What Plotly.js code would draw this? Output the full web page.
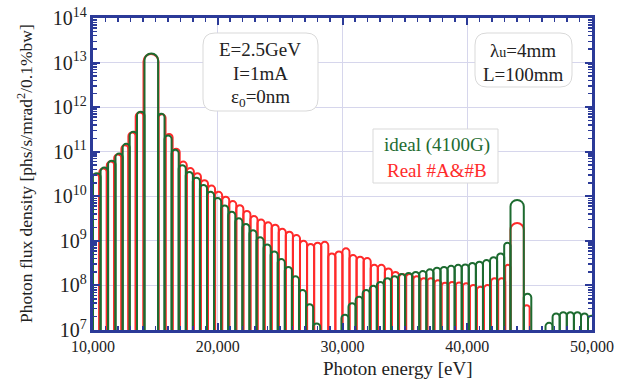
<!DOCTYPE html>
<html><head><meta charset="utf-8">
<script src="https://cdn.plot.ly/plotly-3.0.1.min.js"></script>
<style>html,body{margin:0;padding:0;background:#fff}#chart{width:627px;height:379px}</style>
</head><body><div id="chart"></div>
<script>
// ---- data ----
// lobe maxima: photon energy [eV] and photon flux density [phs/s/mrad^2/0.1%bw]
const greenPeakEnergy = [9695, 10297, 10922, 11499, 12108, 12645, 13231, 13824, 14649,
  15451, 16018, 16585, 17153, 17720, 18287, 18854, 19421, 19989, 20556,
  21123, 21690, 22257, 22825, 23392, 23959, 24526, 25093, 25661, 26228,
  26795, 27362, 27929, 28497, 29064, 29631, 30198, 30765, 31333, 31900,
  32467, 33034, 33601, 34169, 34736, 35303, 35870, 36437, 37005, 37572,
  38139, 38706, 39273, 39841, 40408, 40975, 41542, 42109, 42677, 43244,
  43964, 44846, 45415, 45984, 46553, 47122, 47691, 48261, 48830, 49399, 49968];
const greenPeakFlux = [2.5e10, 3.3e10, 4.4e10, 6.3e10, 9.1e10, 1.5e11, 2.8e11, 7.9e11, 1.6e13,
  7.1e11, 2.3e11, 1.1e11, 5.0e10, 3.5e10, 2.6e10, 1.8e10, 1.26e10, 9.1e9, 6.2e9,
  4.5e9, 3.2e9, 2.4e9, 1.74e9, 1.2e9, 8.3e8, 5.8e8, 3.9e8, 2.6e8, 1.6e8,
  7.9e7, 3.8e7, 1.4e7, 6.3e6, 4e6, 7.9e6, 2.2e7, 4.0e7, 5.6e7, 7.9e7,
  9.8e7, 1.2e8, 1.45e8, 1.6e8, 1.8e8, 1.9e8, 2.0e8, 2.1e8, 2.3e8, 2.5e8,
  2.6e8, 2.75e8, 2.9e8, 2.95e8, 3.2e8, 3.4e8, 3.7e8, 4.3e8, 5.2e8, 9.1e8,
  8.3e9, 6.5e7, 5e6, 6.3e6, 1.45e7, 2.35e7, 2.5e7, 2.5e7, 2.5e7, 2.35e7, 2.1e7];
// energies of the zeros (minima) between lobes [eV]
const greenZeroEnergy = [9410, 9992, 10609, 11210, 11804, 12381, 12942, 13527, 14128, 15218,
  15735, 16302, 16869, 17437, 18004, 18571, 19138, 19705, 20273, 20840,
  21407, 21974, 22541, 23109, 23676, 24243, 24810, 25377, 25945, 26512,
  27079, 27646, 28213, 28781, 29348, 29915, 30482, 31049, 31617, 32184,
  32751, 33318, 33885, 34453, 35020, 35587, 36154, 36721, 37289, 37856,
  38423, 38990, 39557, 40125, 40692, 41259, 41826, 42393, 42961,
  43467, 44533, 45134, 45703, 46273, 46841, 47411, 47980, 48549, 49118, 49679, 50256];

const redPeakEnergy = [9600, 10192, 10818, 11395, 12004, 12541, 13126, 13720, 14649,
  15531, 16098, 16665, 17233, 17800, 18367, 18934, 19501, 20069, 20636,
  21203, 21770, 22337, 22905, 23472, 24039, 24606, 25173, 25741, 26308,
  26875, 27442, 28009, 28577, 29144, 29711, 30278, 30845, 31413, 31980,
  32547, 33114, 33681, 34249, 34816, 35383, 35950, 36517, 37085, 37652,
  38219, 38786, 39353, 39921, 40488, 41055, 41622, 42189, 42757, 43244,
  43964, 44766];
const redPeakFlux = [2.0e10, 3.16e10, 4.2e10, 6.0e10, 8.7e10, 1.4e11, 2.7e11, 7.6e11, 1.55e13,
  6.9e11, 2.5e11, 1.17e11, 6.0e10, 4.3e10, 3.3e10, 2.3e10, 1.74e10, 1.26e10, 9.8e9,
  7.8e9, 6.3e9, 4.7e9, 3.6e9, 3.0e9, 2.6e9, 2.3e9, 1.86e9, 1.6e9, 1.35e9,
  1.0e9, 8.5e8, 9.1e8, 9.5e8, 5.2e8, 5.8e8, 6.8e8, 4.8e8, 4.4e8, 4.1e8,
  2.9e8, 2.9e8, 2.4e8, 2.0e8, 1.8e8, 1.8e8, 1.6e8, 1.45e8, 1.45e8, 1.3e8,
  1.15e8, 1.2e8, 1.17e8, 1.12e8, 1.02e8, 9.3e7, 1.02e8, 1.45e8, 1.45e8, 2.9e8,
  2.5e9, 3.6e7];
const redZeroEnergy = [9310, 9900, 10505, 11106, 11699, 12277, 12838, 13423, 14048, 15250,
  15815, 16382, 16949, 17517, 18084, 18651, 19218, 19785, 20353, 20920,
  21487, 22054, 22621, 23189, 23756, 24323, 24890, 25457, 26025, 26592,
  27159, 27726, 28293, 28861, 29428, 29995, 30562, 31129, 31697, 32264,
  32831, 33398, 33965, 34533, 35100, 35667, 36234, 36801, 37369, 37936,
  38503, 39070, 39637, 40205, 40772, 41339, 41906, 42473, 43041,
  43467, 44533, 45000];

const seriesNames = ['ideal (4100G)', 'Real #A&#B'];
const infoLines = ['E=2.5GeV', 'I=1mA', 'ε<sub>0</sub>=0nm'];
const undulatorLines = ['λ<span style="font-size:14px">u</span>=4mm', 'L=100mm'];
const xTitle = 'Photon energy [eV]';
const yTitle = 'Photon flux density [phs/s/mrad<sup>2</sup>/0.1%bw]';

// ---- each lobe is drawn as an arch from the zero before it to the zero after it ----
const LOBE_FLOOR = 1e6;   // below the visible axis range, so the arch sides run off the bottom
function lobes(pe, pf, ze) {
  const x = [], y = [], offset = [], width = [];
  pe.forEach((e, i) => {
    let lo = -Infinity, hi = Infinity;
    ze.forEach(z => { if (z < e && z > lo) lo = z; if (z > e && z < hi) hi = z; });
    x.push(e); y.push(pf[i] - LOBE_FLOOR);
    offset.push(lo - e); width.push(hi - lo);
  });
  return { x, y, offset, width };
}
const g = lobes(greenPeakEnergy, greenPeakFlux, greenZeroEnergy);
const r = lobes(redPeakEnergy, redPeakFlux, redZeroEnergy);

const GREEN = '#1d6b30', RED = '#ff2a2a', FRAME = '#2b3a98', GRID = '#d6d6ec';
const FONT = 'Liberation Serif, Times New Roman, serif';
const W = 627, H = 379, L = 93, R = 592, T = 18, B = 330;
const px = v => (v - L) / (R - L);
const py = v => (B - v) / (B - T);

function lobeTrace(s, name, color) {
  return { type: 'bar', name, x: s.x, y: s.y, base: LOBE_FLOOR, offset: s.offset, width: s.width,
    marker: { color: 'rgba(0,0,0,0)', cornerradius: '50%', line: { color, width: 2 } } };
}
const traces = [lobeTrace(r, seriesNames[1], RED), lobeTrace(g, seriesNames[0], GREEN)];

function rounded(x0, y0, x1, y1, rad) {
  const rx = rad / (R - L), ry = rad / (B - T);
  const X0 = px(x0), X1 = px(x1), Y0 = py(y0), Y1 = py(y1);
  return `M ${X0 + rx} ${Y0} L ${X1 - rx} ${Y0} Q ${X1} ${Y0} ${X1} ${Y0 - ry} L ${X1} ${Y1 + ry} Q ${X1} ${Y1} ${X1 - rx} ${Y1} L ${X0 + rx} ${Y1} Q ${X0} ${Y1} ${X0} ${Y1 + ry} L ${X0} ${Y0 - ry} Q ${X0} ${Y0} ${X0 + rx} ${Y0} Z`;
}
const boxStyle = { type: 'path', xref: 'paper', yref: 'paper', layer: 'above',
  line: { color: '#d9d9d9', width: 1 }, fillcolor: '#ffffff' };
const shapes = [
  Object.assign({ path: rounded(203, 33, 318, 111, 12) }, boxStyle),
  Object.assign({ path: rounded(475, 33, 572, 87, 12) }, boxStyle),
  Object.assign({ path: rounded(373, 129, 498, 183, 0.01) }, boxStyle)
];

function ann(text, x, y, opts) {
  return Object.assign({ text, x: px(x), y: py(y), xref: 'paper', yref: 'paper',
    showarrow: false, xanchor: 'center', yanchor: 'middle',
    font: { family: FONT, size: 19, color: '#222' } }, opts || {});
}
const annotations = [
  ann(infoLines[0], 260, 50), ann(infoLines[1], 260, 73), ann(infoLines[2], 260, 98),
  ann(undulatorLines[0], 523, 51), ann(undulatorLines[1], 523, 74),
  ann(seriesNames[0], 437, 145, { font: { family: FONT, size: 19, color: GREEN } }),
  ann(seriesNames[1], 437, 170, { font: { family: FONT, size: 19, color: RED } }),
  ann(xTitle, 398, 368, { font: { family: FONT, size: 19, color: '#222' } }),
  ann(yTitle, 25, 174, { textangle: -90, font: { family: FONT, size: 17.5, color: '#222' } })
];

const axisCommon = {
  showline: true, linecolor: FRAME, linewidth: 3, mirror: 'allticks',
  ticks: 'inside', ticklen: 7, tickwidth: 2, tickcolor: FRAME,
  showgrid: true, gridcolor: GRID, gridwidth: 1, zeroline: false,
  tickfont: { family: FONT, size: 16, color: '#222' }
};
const layout = {
  width: W, height: H,
  margin: { l: L, r: W - R, t: T, b: H - B, pad: 0 },
  paper_bgcolor: '#fff', plot_bgcolor: '#fff', showlegend: false, barmode: 'overlay',
  font: { family: FONT, color: '#222' },
  xaxis: Object.assign({}, axisCommon, {
    range: [10000, 50000], tickmode: 'linear', tick0: 10000, dtick: 10000, tickformat: ',d',
    minor: { dtick: 1000, ticks: 'inside', ticklen: 4, tickwidth: 1.5, tickcolor: FRAME, showgrid: false }
  }),
  yaxis: Object.assign({}, axisCommon, {
    type: 'log', range: [7, 14], dtick: 1, exponentformat: 'power',
    minor: { dtick: 'D1', ticks: 'inside', ticklen: 4, tickwidth: 1.5, tickcolor: FRAME, showgrid: false }
  }),
  shapes, annotations
};
Plotly.newPlot('chart', traces, layout, { displayModeBar: false, staticPlot: true });
</script></body></html>
